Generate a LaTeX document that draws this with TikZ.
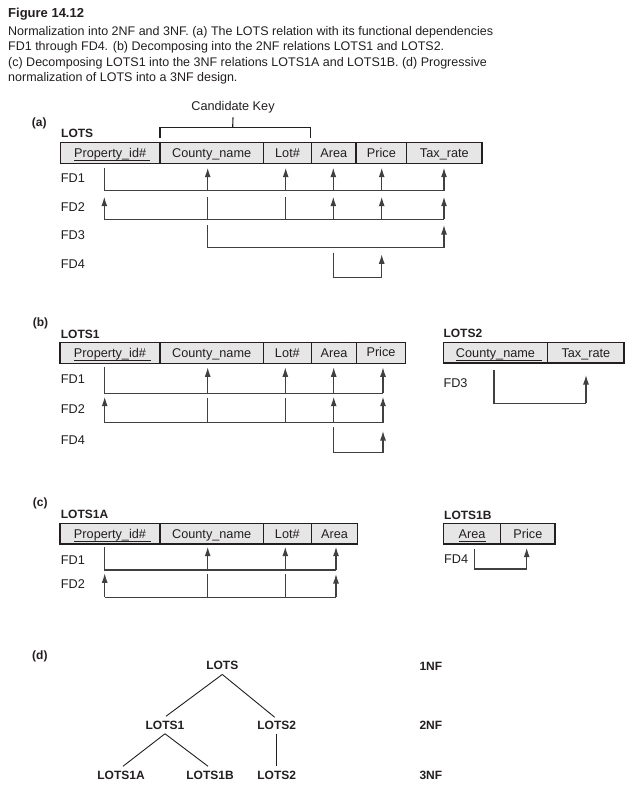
\documentclass[tikz,border=0pt]{standalone}
\usepackage{fontspec}
\setmainfont{Liberation Sans}
\usetikzlibrary{arrows.meta}
\definecolor{cellfill}{HTML}{E6E6E6}
\definecolor{ink}{HTML}{231F20}
\definecolor{fdgray}{HTML}{404040}
\newcommand{\pkey}[3]{\setbox0=\hbox{#1}\rlap{\rule[-3.6pt]{\dimexpr\wd0+#2\relax}{0.9pt}}\box0\hspace{#3}}
\tikzset{
  cell/.style={draw=ink, line width=1.3pt, fill=cellfill, inner sep=0pt, outer sep=0pt,
    minimum height=20.6pt, anchor=west, text=ink, text height=11pt, text depth=1.9pt,
    font=\fontsize{12.7}{15}\selectfont},
  fdl/.style={draw=fdgray, line width=1.2pt},
  fda/.style={fdl, -{Latex[length=9.5pt,width=6pt]}},
  lbl/.style={anchor=base west, inner sep=0pt, text=ink, font=\fontsize{12.7}{15}\selectfont},
  rel/.style={anchor=base west, inner sep=0pt, text=ink, font=\bfseries\fontsize{12}{14}\selectfont},
  captxt/.style={anchor=base west, inner sep=0pt, text=ink, font=\fontsize{12.5}{15}\selectfont},
  treenode/.style={inner sep=4.3pt, text=ink, font=\bfseries\fontsize{12}{14}\selectfont},
  treeline/.style={draw=ink, line width=0.9pt},
  bracket/.style={draw=ink, line width=1.1pt},
}
\begin{document}
\begin{tikzpicture}[x=1pt,y=-1pt]
\useasboundingbox[fill=white] (0,0) rectangle (632,790);

% caption
\node[anchor=base west, inner sep=0pt, text=ink, font=\bfseries\fontsize{13}{15}\selectfont] (title) at (8,17) {Figure 14.12};
\node[captxt] (c1) at (8,35) {Normalization into 2NF and 3NF. (a) The LOTS relation with its functional dependencies};
\node[captxt] (c2) at (8,50.5) {FD1 through FD4. (b) Decomposing into the 2NF relations LOTS1 and LOTS2.};
\node[captxt] (c3) at (8,66) {(c) Decomposing LOTS1 into the 3NF relations LOTS1A and LOTS1B. (d) Progressive};
\node[captxt] (c4) at (8,81.5) {normalization of LOTS into a 3NF design.};

% ---------------- (a)
\node[rel] (pa) at (31.7,126) {(a)};
\node[rel] (lots) at (61,137.6) {LOTS};
\node[anchor=center, inner sep=0pt, text=ink, font=\fontsize{12.7}{15}\selectfont] (ck) at (233,107.7) {Candidate Key};
\draw[bracket] (160,137.7) -- (160,127.3) -- (310.7,127.3) -- (310.7,137.7);
\draw[bracket] (232.7,127.3) -- (ck.south |- 0,117.3);

\node[cell, minimum width=99.7pt] (a1) at (60.3,153) {\pkey{Property\_id\#}{3.5pt}{7.8pt}};
\node[cell, minimum width=103.3pt] (a2) at (160,153) {County\_name\hspace{8pt}};
\node[cell, minimum width=48.4pt] (a3) at (263.3,153) {Lot\#};
\node[cell, minimum width=44.3pt] (a4) at (311.7,153) {Area};
\node[cell, minimum width=50.7pt] (a5) at (356,153) {Price\hspace{3pt}};
\node[cell, minimum width=75.3pt] (a6) at (406.7,153) {Tax\_rate\hspace{12pt}};

\node[lbl] (afd1) at (60.7,182.9) {FD1};
\node[lbl] (afd2) at (60.7,211.9) {FD2};
\node[lbl] (afd3) at (60.7,239.6) {FD3};
\node[lbl] (afd4) at (60.7,268.9) {FD4};

% FD1
\draw[fdl] (104.3,167.7) -- (104.3,190.7) -- (444,190.7);
\foreach \x in {207.7,285.7,333.3,381.7,444} \draw[fda] (\x,190.7) -- (\x,167.7);
% FD2
\draw[fdl] (104.3,219.3) -- (444,219.3);
\draw[fda] (104.3,219.3) -- (104.3,196.7);
\foreach \x in {207.7,285.7} \draw[fdl] (\x,219.3) -- (\x,196.7);
\foreach \x in {333.3,381.7,444} \draw[fda] (\x,219.3) -- (\x,196.7);
% FD3
\draw[fdl] (207.7,225) -- (207.7,247.7) -- (444,247.7);
\draw[fda] (444,247.7) -- (444,225);
% FD4
\draw[fdl] (333.3,252.7) -- (333.3,277.3) -- (381.7,277.3);
\draw[fda] (381.7,277.3) -- (381.7,254.3);

% ---------------- (b)
\node[rel] (pb) at (32.7,326.6) {(b)};
\node[rel] (lots1) at (60.7,338.3) {LOTS1};
\node[rel] (lots2) at (443.3,337.6) {LOTS2};

\node[cell, minimum width=100pt] (b1) at (60,353) {\pkey{Property\_id\#}{4.5pt}{7.5pt}};
\node[cell, minimum width=103.3pt] (b2) at (160,353) {County\_name\hspace{8pt}};
\node[cell, minimum width=48pt] (b3) at (263.3,353) {Lot\#};
\node[cell, minimum width=45.4pt] (b4) at (311.3,353) {Area};
\node[cell, minimum width=48.6pt] (b5) at (356.7,353) {\raisebox{1.2pt}{Price}};

\node[cell, minimum width=104.4pt] (b6) at (443.3,352.8) {\pkey{County\_name}{7pt}{8.6pt}};
\node[cell, minimum width=76.3pt] (b7) at (547.7,352.8) {Tax\_rate\hspace{9pt}};

\node[lbl] (bfd1) at (60.7,383.6) {FD1};
\node[lbl] (bfd2) at (60.7,413.9) {FD2};
\node[lbl] (bfd4) at (60.7,444.6) {FD4};
\node[lbl] (bfd3) at (443.3,387.9) {FD3};

% FD1
\draw[fdl] (104.7,367.3) -- (104.7,393.3) -- (383,393.3);
\foreach \x in {207.7,285.3,333.7,383} \draw[fda] (\x,393.3) -- (\x,367.3);
% FD2
\draw[fdl] (104.7,422.7) -- (383,422.7);
\draw[fda] (104.7,422.7) -- (104.7,396.7);
\foreach \x in {207.7,285.3} \draw[fdl] (\x,422.7) -- (\x,397.5);
\foreach \x in {333.7,383} \draw[fda] (\x,422.7) -- (\x,396.7);
% FD4
\draw[fdl] (333.7,427.3) -- (333.7,452.7) -- (383,452.7);
\draw[fda] (383,452.7) -- (383,431);
% FD3
\draw[fdl] (494,370) -- (494,403.3) -- (586,403.3);
\draw[fda] (586,403.3) -- (586,375);

% ---------------- (c)
\node[rel] (pc) at (32.7,506.6) {(c)};
\node[rel] (lots1a) at (60.7,518.6) {LOTS1A};
\node[rel] (lots1b) at (444,519.3) {LOTS1B};

\node[cell, minimum width=100pt] (c1c) at (60,533.8) {\pkey{Property\_id\#}{4.5pt}{7.5pt}};
\node[cell, minimum width=103.3pt] (c2c) at (160,533.8) {County\_name\hspace{8pt}};
\node[cell, minimum width=48pt] (c3c) at (263.3,533.8) {Lot\#};
\node[cell, minimum width=46.4pt] (c4c) at (311.3,533.8) {Area};

\node[cell, minimum width=57.4pt] (c5c) at (443.3,533.8) {\pkey{Area}{1pt}{0pt}};
\node[cell, minimum width=54.3pt] (c6c) at (500.7,533.8) {Price};

\node[lbl] (cfd1) at (60.7,564.6) {FD1};
\node[lbl] (cfd2) at (60.7,588.9) {FD2};
\node[lbl] (cfd4) at (444,563.9) {FD4};

% FD1
\draw[fdl] (104.7,547.3) -- (104.7,570) -- (336,570);
\foreach \x in {207.7,285.3,336} \draw[fda] (\x,570) -- (\x,546.7);
% FD2
\draw[fdl] (104.7,597.3) -- (336,597.3);
\draw[fda] (104.7,597.3) -- (104.7,573.3);
\foreach \x in {207.7,285.3} \draw[fdl] (\x,597.3) -- (\x,574);
\draw[fda] (336,597.3) -- (336,574);
% FD4
\draw[fdl] (474.3,549.3) -- (474.3,569) -- (526.7,569);
\draw[fda] (526.7,569) -- (526.7,547.7);

% ---------------- (d)
\node[rel] (pd) at (32,659.3) {(d)};
\node[treenode] (t0) at (222.3,665.7) {LOTS};
\node[treenode] (t1) at (165,725) {LOTS1};
\node[treenode] (t2) at (276.7,725) {LOTS2};
\node[treenode] (t3) at (121,775) {LOTS1A};
\node[treenode] (t4) at (210,775) {LOTS1B};
\node[treenode] (t5) at (276.7,775) {LOTS2};
\node[rel] (nf1) at (419.3,670) {1NF};
\node[rel] (nf2) at (419.3,729.3) {2NF};
\node[rel] (nf3) at (419.3,779.3) {3NF};

\draw[treeline] (t0.south) -- ([xshift=1pt]t1.north);
\draw[treeline] (t0.south) -- ([xshift=-2pt,yshift=-1pt]t2.north);
\draw[treeline] (t1.south) -- ([xshift=2pt]t3.north);
\draw[treeline] (t1.south) -- ([xshift=-2pt]t4.north);
\draw[treeline] (t2.south) -- (t5.north);
\end{tikzpicture}
\end{document}
